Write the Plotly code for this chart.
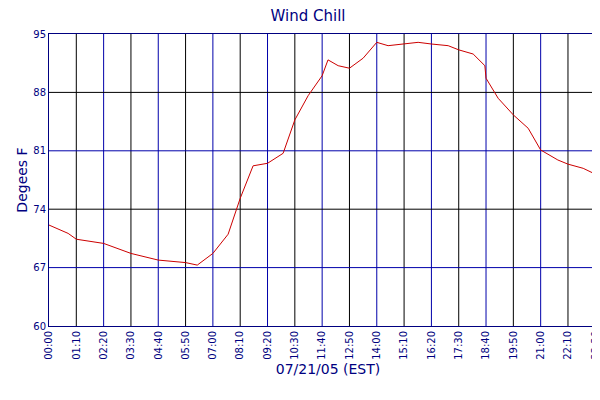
import plotly.graph_objects as go

minutes = [0,49,70,140,210,280,350,380,420,459,490,523,560,600,630,664,700,715,741,770,805,840,869,910,946,980,1023,1050,1087,1117,1120,1151,1190,1228,1260,1304,1330,1369,1400,1430]
temps = [72.1,71.1,70.4,69.9,68.7,67.9,67.6,67.3,68.7,71.0,75.3,79.2,79.5,80.7,84.7,87.6,90.0,91.9,91.2,90.9,92.1,94.0,93.6,93.8,94.0,93.8,93.6,93.1,92.6,91.2,89.7,87.3,85.3,83.7,81.1,79.9,79.4,78.9,78.2,78.2]
tick_vals = list(range(0, 1401, 70)) + [1430]
tick_text = [f"{v//60:02d}:{v%60:02d}" for v in tick_vals]
y_ticks = [60, 67, 74, 81, 88, 95]

fig = go.Figure()
fig.add_trace(go.Scatter(x=minutes, y=temps, mode="lines", name="Wind Chill",
                         line=dict(color="#cc0000", width=1)))
shapes = []
for i, v in enumerate(tick_vals[1:-1]):
    shapes.append(dict(type="line", xref="x", yref="paper", x0=v, x1=v, y0=0, y1=1,
                       line=dict(color="black" if i % 2 == 0 else "#0000aa", width=1), layer="below"))
for i, v in enumerate(y_ticks[1:-1]):
    shapes.append(dict(type="line", xref="paper", yref="y", x0=0, x1=1, y0=v, y1=v,
                       line=dict(color="#0000aa" if i % 2 == 0 else "black", width=1), layer="below"))
fig.update_layout(
    width=600, height=400, margin=dict(l=41, r=1, t=26, b=82, autoexpand=False),
    paper_bgcolor="white", plot_bgcolor="white", shapes=shapes,
    font=dict(family="DejaVu Sans", color="#000080"),
    title=dict(text="Wind Chill", x=0.5, xanchor="center", y=0.995, yanchor="top", font=dict(size=15, color="#000080")),
    showlegend=True,
    legend=dict(orientation="h", x=0.5, xanchor="center", y=-0.24, yanchor="top", font=dict(size=11, color="#000080")),
    xaxis=dict(range=[0, 1430], tickvals=tick_vals, ticktext=tick_text, tickangle=-90, automargin=False,
               showgrid=False, zeroline=False, showline=True, linecolor="#000080", mirror=True,
               tickfont=dict(size=10, color="#000080"),
               title=dict(text="07/21/05 (EST)", font=dict(size=14, color="#000080"), standoff=5)),
    yaxis=dict(range=[60, 95], tickvals=y_ticks, showgrid=False, zeroline=False, showline=True, automargin=False,
               linecolor="#000080", mirror=True, tickfont=dict(size=10, color="#000080"),
               title=dict(text="Degees F", font=dict(size=14, color="#000080"), standoff=2)),
)
fig.write_html("out.html")
